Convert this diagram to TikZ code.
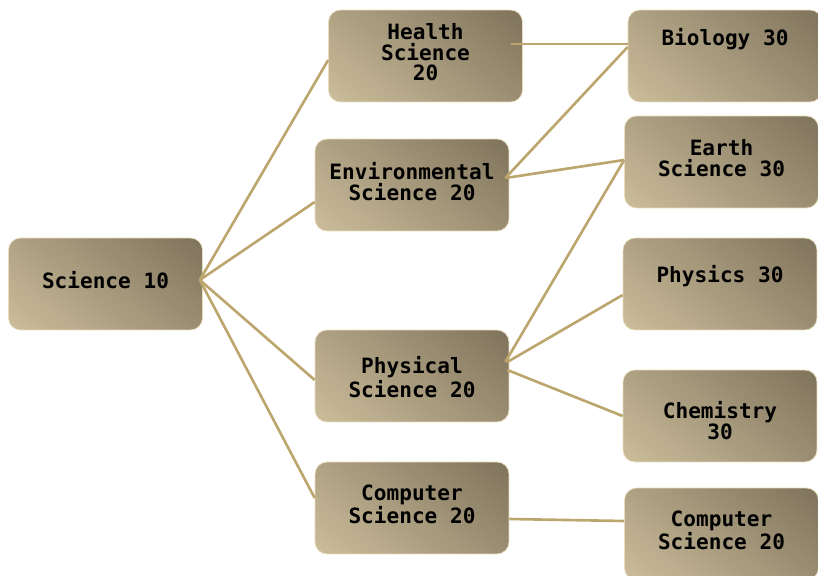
\documentclass[tikz,border=0pt]{standalone}
\usepackage{fontspec}
\setmonofont{DejaVu Sans Mono}
\usetikzlibrary{calc}
\definecolor{boxdark}{HTML}{6E634E}
\definecolor{boxlight}{HTML}{DCCDA8}
\definecolor{boxrim}{HTML}{E8DCBA}
\definecolor{linktan}{HTML}{BCA66E}
\pgfdeclareverticalshading{boxfade}{100bp}{color(0bp)=(boxlight); color(100bp)=(boxdark)}
\tikzset{box/.style={draw=boxrim, thin, rounded corners=0.24cm, shading=boxfade, shading angle=-40, minimum width=3.88cm, minimum height=1.84cm, align=center, inner sep=2pt, text depth=0.16cm, font=\fontsize{12}{11.9}\selectfont\ttfamily\bfseries},
  link/.style={linktan, line width=1.5pt}}

\begin{document}
\begin{tikzpicture}[x=0.02cm, y=-0.02cm]
  \useasboundingbox (0,0) rectangle (818,575);
  \clip (0,0) rectangle (818,575);
  \node[box] (sci) at (105.5,284) {Science 10};
  \node[box] (health) at (425.5,56) {Health\\Science\\20};
  \node[box] (env) at (412,185) {Environmental\\Science 20};
  \node[box, text height=0.84cm, text depth=0cm] (phys) at (412,376) {Physical\\Science 20};
  \node[box] (comp) at (412,508) {Computer\\Science 20};
  \node[box, text height=0.3cm, text depth=0.74cm] (bio) at (725,56) {Biology 30};
  \node[box] (earth) at (721.5,162) {Earth\\Science 30};
  \node[box, text depth=0.42cm] (physics) at (720,284) {Physics 30};
  \node[box, text height=0.92cm, text depth=0cm] (chem) at (720,416) {Chemistry\\30};
  \node[box] (comptwo) at (721.5,534) {Computer\\Science 20};
  \coordinate (fan) at ($(sci.east)+(-3,-4)$);
  \draw[link] (fan) -- ($(health.west)+(0,4)$);
  \draw[link] (fan) -- ($(env.west)+(0,17)$);
  \draw[link] (fan) -- ($(phys.west)+(0,4)$);
  \draw[link] (fan) -- ($(comp.west)+(0,-10)$);
  \draw[link] ($(health.east)+(-12,-12)$) -- ($(bio.west)+(0,-12)$);
  \draw[link] ($(env.east)+(-4,-7)$) -- ($(bio.west)+(0,-9)$);
  \draw[link] ($(env.east)+(-4,-7)$) -- ($(earth.west)+(0,-2)$);
  \draw[link] ($(phys.east)+(-4,-14)$) -- ($(earth.west)+(0,-2)$);
  \draw[link] ($(phys.east)+(-2,-14)$) -- ($(physics.west)+(0,11)$);
  \draw[link] ($(phys.east)+(-2,-6)$) -- (chem.west);
  \draw[link] ($(comp.east)+(0,11)$) -- ($(comptwo.west)+(0,-13)$);
\end{tikzpicture}
\end{document}
